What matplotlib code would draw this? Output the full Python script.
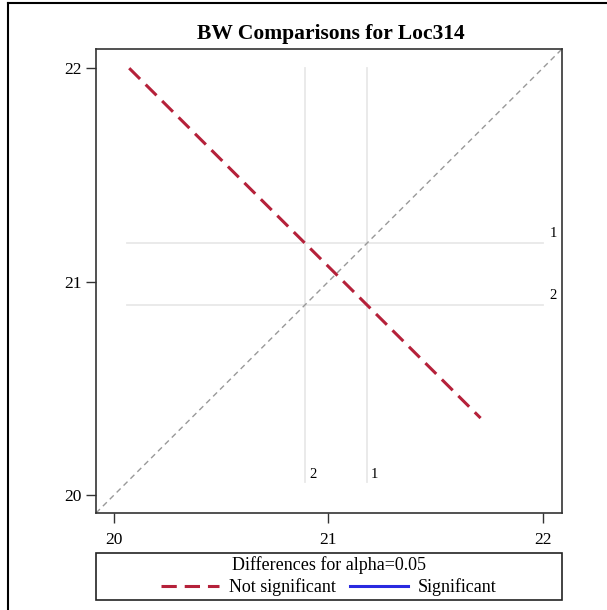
import matplotlib
matplotlib.use("Agg")
import matplotlib.pyplot as plt
from matplotlib.lines import Line2D
from matplotlib.patches import Rectangle

# ---- data ----
title = "BW Comparisons for Loc314"
levels = ["1", "2"]
lsmeans = [21.18, 20.89]
diff_lower = -0.53   # CI of (mean1 - mean2)
diff_upper = 1.11
ref_lo = 20.06
ref_hi = 22.0
ticks = [20, 21, 22]
tick_labels = ["20", "21", "22"]
axis_lim = [19.915, 22.09]
legend_title = "Differences for alpha=0.05"
legend_labels = ["Not significant", "Significant"]

RED = "#B5213A"
BLUE = "#2A2AE0"
W, H = 607, 610
plt.rcParams["font.family"] = ["Liberation Serif", "DejaVu Serif"]

fig = plt.figure(figsize=(W / 100, H / 100), dpi=100)

def fbox(l, t, r, b):
    return [l / W, 1 - b / H, (r - l) / W, (b - t) / H]

ax = fig.add_axes(fbox(96, 49, 562, 513))
ax.set_xlim(axis_lim)
ax.set_ylim(axis_lim)

# diagonal
ax.axline((ticks[0], ticks[0]), (ticks[-1], ticks[-1]), color="#999999",
          lw=1.0, ls=(0, (4, 3)), zorder=1)

# reference lines and labels
for lab, m in zip(levels, lsmeans):
    ax.plot([m, m], [ref_lo, ref_hi], color="#E8E8E8", lw=1.3, zorder=0)
    ax.plot([ref_lo, ref_hi], [m, m], color="#E8E8E8", lw=1.3, zorder=0)
    ax.annotate(lab, (m, ref_lo), xytext=(3, 1), textcoords="offset points",
                ha="left", va="bottom", fontsize=10.5)
    ax.annotate(lab, (ref_hi, m), xytext=(5, 2), textcoords="offset points",
                ha="left", va="bottom", fontsize=10.5)

# difference segment
w = (diff_upper - diff_lower) / 2
sig = diff_lower > 0 or diff_upper < 0
ax.plot([lsmeans[1] - w, lsmeans[1] + w], [lsmeans[0] + w, lsmeans[0] - w],
        color=BLUE if sig else RED, lw=2.2,
        ls="-" if sig else (0, (5, 2.6)), zorder=3)

ax.set_xticks(ticks)
ax.set_xticklabels(tick_labels)
ax.set_yticks(ticks)
ax.set_yticklabels(tick_labels)
ax.tick_params(direction="out", length=7, width=1, color="#333333",
               labelsize=12.5)
ax.tick_params(axis="x", pad=7)
ax.tick_params(axis="y", pad=3)
for s in ax.spines.values():
    s.set_color("#333333")
    s.set_linewidth(1.2)

fig.text(331 / W, 1 - 34 / H, title, ha="center", va="center",
         fontsize=15.5, fontweight="bold")

# legend box
fig.patches.append(Rectangle((96 / W, 1 - 600 / H), 466 / W, 47 / H,
                             transform=fig.transFigure, fill=False,
                             edgecolor="#222222", lw=1.2))
fig.text(329 / W, 1 - 565 / H, legend_title, ha="center", va="center",
         fontsize=13)
handles = [Line2D([], [], color=RED, lw=2.2, ls=(0, (5, 2.6))),
           Line2D([], [], color=BLUE, lw=2.2)]
fig.legend(handles, legend_labels, loc="center", ncol=2,
           bbox_to_anchor=(329 / W, 1 - 587 / H), frameon=False,
           fontsize=13, handlelength=3.2, handletextpad=0.55,
           columnspacing=0.8, borderpad=0, borderaxespad=0)

# outer border (left and top)
fig.add_artist(Line2D([8 / W, 8 / W], [0, 1 - 3 / H], color="black", lw=1.5,
                      transform=fig.transFigure))
fig.add_artist(Line2D([8 / W, 1], [1 - 3 / H, 1 - 3 / H], color="black", lw=1.5,
                      transform=fig.transFigure))

fig.savefig("out.png", dpi=100)
